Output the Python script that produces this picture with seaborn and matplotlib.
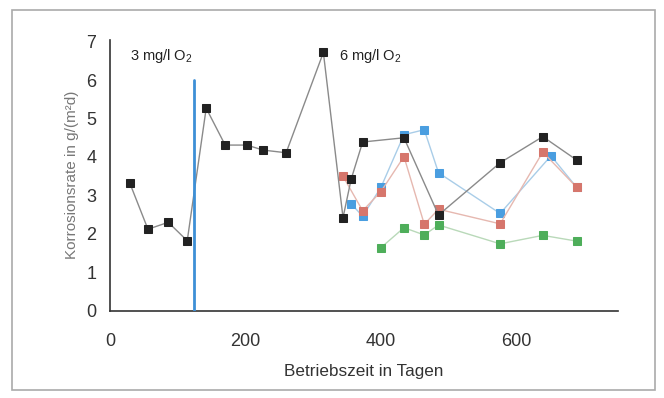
import matplotlib
matplotlib.use("Agg")
import matplotlib.pyplot as plt
import seaborn as sns
import pandas as pd
from matplotlib.patches import Rectangle

# --- data ---
black_days = [29, 56, 86, 114, 142, 170, 202, 226, 260, 315, 344, 356, 373, 434, 485, 576, 639, 689]
black_vals = [3.33, 2.12, 2.30, 1.82, 5.27, 4.31, 4.31, 4.18, 4.11, 6.72, 2.42, 3.42, 4.39, 4.50, 2.49, 3.85, 4.53, 3.92]

red_days = [344, 373, 400, 434, 464, 485, 576, 639, 689]
red_vals = [3.50, 2.60, 3.10, 4.01, 2.25, 2.64, 2.26, 4.13, 3.21]

blue_days = [356, 373, 400, 434, 464, 485, 576, 651, 689]
blue_vals = [2.78, 2.46, 3.21, 4.58, 4.71, 3.59, 2.53, 4.03, 3.21]

green_days = [400, 434, 464, 485, 576, 639, 689]
green_vals = [1.64, 2.16, 1.97, 2.23, 1.74, 1.96, 1.81]

switch_day = 124
switch_top = 6.0

x_ticks = [0, 200, 400, 600]
y_ticks = [0, 1, 2, 3, 4, 5, 6, 7]
label_3 = "3 mg/l O$_2$"
label_6 = "6 mg/l O$_2$"
xlabel = "Betriebszeit in Tagen"
ylabel = "Korrosionsrate in g/(m²d)"

sns.set_style("white")
plt.rcParams['font.family'] = ['Liberation Sans', 'DejaVu Sans']
plt.rcParams['mathtext.fontset'] = 'custom'
plt.rcParams['mathtext.rm'] = 'Liberation Sans'
plt.rcParams['mathtext.it'] = 'Liberation Sans'

fig = plt.figure(figsize=(6.64, 3.98), dpi=100)
ax = fig.add_axes([0.1657, 0.2194, 0.9307 - 0.1657, 0.9 - 0.2194])

series = [
    (blue_days, blue_vals, "#a9cde8", "#4a9ee0"),
    (green_days, green_vals, "#b9d9b9", "#4eae5a"),
    (red_days, red_vals, "#e6b8b0", "#d6766c"),
    (black_days, black_vals, "#8a8a8a", "#222222"),
]
for d, v, lc, mc in series:
    df = pd.DataFrame({"d": d, "v": v})
    sns.lineplot(data=df, x="d", y="v", ax=ax, color=lc, lw=1.0,
                 marker="s", markersize=5.8, markerfacecolor=mc,
                 markeredgecolor=mc, sort=False, zorder=3)

ax.plot([switch_day, switch_day], [0, switch_top], color="#3d8fd6", lw=2, zorder=4)

ax.set_xlim(0, 750)
ax.set_ylim(0, 7.05)
ax.set_xticks(x_ticks)
ax.set_yticks(y_ticks)
ax.tick_params(axis='both', direction='inout', length=8, width=1, color='#333333',
               labelsize=13, labelcolor='#333333')
ax.tick_params(axis='x', pad=12)
ax.tick_params(axis='y', pad=6)
for s in ['top', 'right']:
    ax.spines[s].set_visible(False)
for s in ['left', 'bottom']:
    ax.spines[s].set_color('#333333')
    ax.spines[s].set_linewidth(1.2)

ax.set_xlabel(xlabel, fontsize=12.3, color='#333333', labelpad=10)
ax.set_ylabel(ylabel, fontsize=11, color='#777777', labelpad=5)

ax.text(30, 6.62, label_3, fontsize=10.5, color='#222222', va='center', ha='left')
ax.text(338, 6.62, label_6, fontsize=10.5, color='#222222', va='center', ha='left')

fig.patches.append(Rectangle((12/664, 1 - 390/398), (655-12)/664, (390-10)/398,
                             transform=fig.transFigure, fill=False,
                             edgecolor='#aaaaaa', lw=1.2))

fig.savefig("out.png", dpi=100)
